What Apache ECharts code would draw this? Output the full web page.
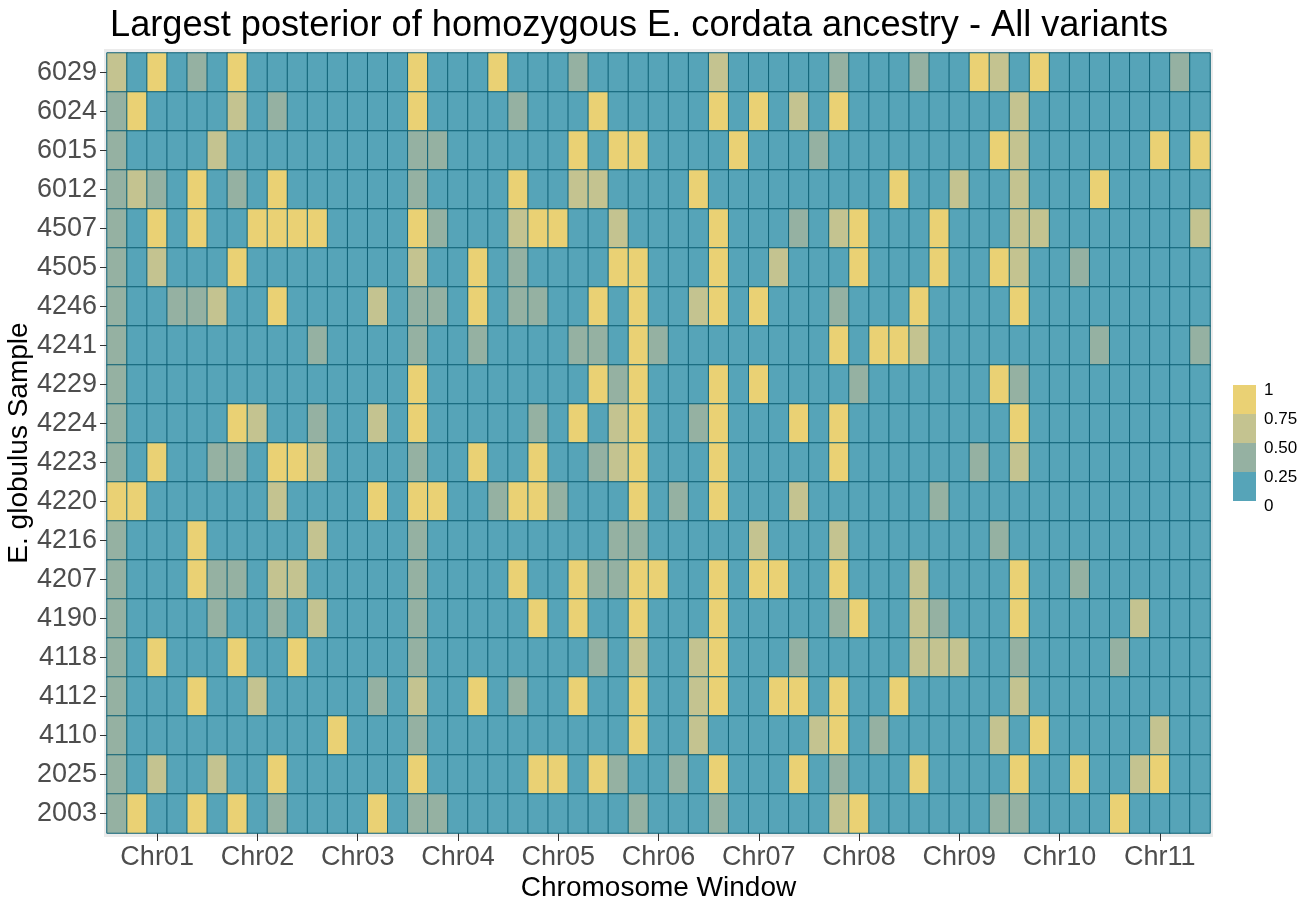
<!DOCTYPE html>
<html>
<head>
<meta charset="utf-8">
<script src="https://cdn.jsdelivr.net/npm/echarts@6/dist/echarts.min.js"></script>
<style>
  html, body { margin: 0; padding: 0; background: #ffffff; }
  #chart { width: 1316px; height: 909px; }
</style>
</head>
<body>
<div id="chart"></div>
<script>
// chromosomes, 5 windows each
let chromosomes = ['Chr01', 'Chr02', 'Chr03', 'Chr04', 'Chr05', 'Chr06', 'Chr07', 'Chr08', 'Chr09', 'Chr10', 'Chr11'];
let windowsPerChr = 5;

// samples, top to bottom as drawn
let samples = ['6029', '6024', '6015', '6012', '4507', '4505', '4246', '4241', '4229', '4224',
               '4223', '4220', '4216', '4207', '4190', '4118', '4112', '4110', '2025', '2003'];

// largest posterior per window (approximate, read off the colour bins)
let s6029 = [.6,.1,.9,.1,.4, .1,.9,.1,.1,.1, .1,.1,.1,.1,.1, .9,.1,.1,.1,.9, .1,.1,.1,.4,.1, .1,.1,.1,.1,.1, .6,.1,.1,.1,.1, .1,.4,.1,.1,.1, .4,.1,.1,.9,.6, .1,.9,.1,.1,.1, .1,.1,.1,.4,.1];
let s6024 = [.4,.9,.1,.1,.1, .1,.6,.1,.4,.1, .1,.1,.1,.1,.1, .9,.1,.1,.1,.1, .4,.1,.1,.1,.9, .1,.1,.1,.1,.1, .9,.1,.9,.1,.6, .1,.9,.1,.1,.1, .1,.1,.1,.1,.1, .6,.1,.1,.1,.1, .1,.1,.1,.1,.1];
let s6015 = [.4,.1,.1,.1,.1, .6,.1,.1,.1,.1, .1,.1,.1,.1,.1, .4,.4,.1,.1,.1, .1,.1,.1,.9,.1, .9,.9,.1,.1,.1, .1,.9,.1,.1,.1, .4,.1,.1,.1,.1, .1,.1,.1,.1,.9, .6,.1,.1,.1,.1, .1,.1,.9,.1,.9];
let s6012 = [.4,.6,.4,.1,.9, .1,.4,.1,.9,.1, .1,.1,.1,.1,.1, .4,.1,.1,.1,.1, .9,.1,.1,.6,.6, .1,.1,.1,.1,.9, .1,.1,.1,.1,.1, .1,.1,.1,.1,.9, .1,.1,.6,.1,.1, .6,.1,.1,.1,.9, .1,.1,.1,.1,.1];
let s4507 = [.4,.1,.9,.1,.9, .1,.1,.9,.9,.9, .9,.1,.1,.1,.1, .9,.4,.1,.1,.1, .6,.9,.9,.1,.1, .6,.1,.1,.1,.1, .9,.1,.1,.1,.4, .1,.6,.9,.1,.1, .1,.9,.1,.1,.1, .6,.6,.1,.1,.1, .1,.1,.1,.1,.6];
let s4505 = [.4,.1,.6,.1,.1, .1,.9,.1,.1,.1, .1,.1,.1,.1,.1, .6,.1,.1,.9,.1, .4,.1,.1,.1,.1, .9,.9,.1,.1,.1, .9,.1,.1,.6,.1, .1,.1,.9,.1,.1, .1,.9,.1,.1,.9, .6,.1,.1,.4,.1, .1,.1,.1,.1,.1];
let s4246 = [.4,.1,.1,.4,.4, .6,.1,.1,.9,.1, .1,.1,.1,.6,.1, .4,.4,.1,.9,.1, .4,.4,.1,.1,.9, .1,.9,.1,.1,.6, .9,.1,.9,.1,.1, .1,.4,.1,.1,.1, .9,.1,.1,.1,.1, .9,.1,.1,.1,.1, .1,.1,.1,.1,.1];
let s4241 = [.4,.1,.1,.1,.1, .1,.1,.1,.1,.1, .4,.1,.1,.1,.1, .4,.1,.1,.4,.1, .1,.1,.1,.4,.4, .1,.9,.4,.1,.1, .1,.1,.1,.1,.1, .1,.9,.1,.9,.9, .6,.1,.1,.1,.1, .1,.1,.1,.1,.4, .1,.1,.1,.1,.4];
let s4229 = [.4,.1,.1,.1,.1, .1,.1,.1,.1,.1, .1,.1,.1,.1,.1, .9,.1,.1,.1,.1, .1,.1,.1,.1,.9, .4,.9,.1,.1,.1, .9,.1,.9,.1,.1, .1,.1,.4,.1,.1, .1,.1,.1,.1,.9, .4,.1,.1,.1,.1, .1,.1,.1,.1,.1];
let s4224 = [.4,.1,.1,.1,.1, .1,.9,.6,.1,.1, .4,.1,.1,.6,.1, .9,.1,.1,.1,.1, .1,.4,.1,.9,.1, .6,.9,.1,.1,.4, .9,.1,.1,.1,.9, .1,.9,.1,.1,.1, .1,.1,.1,.1,.1, .9,.1,.1,.1,.1, .1,.1,.1,.1,.1];
let s4223 = [.4,.1,.9,.1,.1, .4,.4,.1,.9,.9, .6,.1,.1,.1,.1, .4,.1,.1,.9,.1, .1,.9,.1,.1,.4, .6,.9,.1,.1,.1, .9,.1,.1,.1,.1, .1,.9,.1,.1,.1, .1,.1,.1,.4,.1, .6,.1,.1,.1,.1, .1,.1,.1,.1,.1];
let s4220 = [.9,.9,.1,.1,.1, .1,.1,.1,.6,.1, .1,.1,.1,.9,.1, .9,.9,.1,.1,.4, .9,.9,.4,.1,.1, .1,.9,.1,.4,.1, .9,.1,.1,.1,.6, .1,.1,.1,.1,.1, .1,.4,.1,.1,.1, .1,.1,.1,.1,.1, .1,.1,.1,.1,.1];
let s4216 = [.4,.1,.1,.1,.9, .1,.1,.1,.1,.1, .6,.1,.1,.1,.1, .4,.1,.1,.1,.1, .1,.1,.1,.1,.1, .4,.4,.1,.1,.1, .1,.1,.6,.1,.1, .1,.6,.1,.1,.1, .1,.1,.1,.1,.4, .1,.1,.1,.1,.1, .1,.1,.1,.1,.1];
let s4207 = [.4,.1,.1,.1,.9, .4,.4,.1,.6,.6, .1,.1,.1,.1,.1, .4,.1,.1,.1,.1, .9,.1,.1,.9,.4, .4,.9,.9,.1,.1, .9,.1,.9,.9,.1, .1,.9,.1,.1,.1, .6,.1,.1,.1,.1, .9,.1,.1,.4,.1, .1,.1,.1,.1,.1];
let s4190 = [.4,.1,.1,.1,.1, .4,.1,.1,.4,.1, .6,.1,.1,.1,.1, .4,.1,.1,.1,.1, .1,.9,.1,.9,.1, .1,.9,.1,.1,.1, .9,.1,.1,.1,.1, .1,.4,.9,.1,.1, .6,.4,.1,.1,.1, .9,.1,.1,.1,.1, .1,.6,.1,.1,.1];
let s4118 = [.4,.1,.9,.1,.1, .1,.9,.1,.1,.9, .1,.1,.1,.1,.1, .4,.1,.1,.1,.1, .1,.1,.1,.1,.4, .1,.6,.1,.1,.6, .9,.1,.1,.1,.4, .1,.1,.1,.1,.1, .6,.6,.6,.1,.1, .4,.1,.1,.1,.1, .4,.1,.1,.1,.1];
let s4112 = [.4,.1,.1,.1,.9, .1,.1,.6,.1,.1, .1,.1,.1,.4,.1, .6,.1,.1,.9,.1, .4,.1,.1,.9,.1, .1,.9,.1,.1,.6, .9,.1,.1,.9,.9, .1,.9,.1,.1,.9, .1,.1,.1,.1,.1, .6,.1,.1,.1,.1, .1,.1,.1,.1,.1];
let s4110 = [.4,.1,.1,.1,.1, .1,.1,.1,.1,.1, .1,.9,.1,.1,.1, .4,.1,.1,.1,.1, .1,.1,.1,.1,.1, .1,.9,.1,.1,.6, .1,.1,.1,.1,.1, .6,.9,.1,.4,.1, .1,.1,.1,.1,.6, .1,.9,.1,.1,.1, .1,.1,.6,.1,.1];
let s2025 = [.4,.1,.6,.1,.1, .6,.1,.1,.9,.1, .1,.1,.1,.1,.1, .9,.1,.1,.1,.1, .1,.9,.9,.1,.9, .4,.1,.1,.4,.1, .9,.1,.1,.1,.9, .1,.4,.1,.1,.1, .9,.1,.1,.1,.1, .9,.1,.1,.9,.1, .1,.6,.9,.1,.1];
let s2003 = [.4,.9,.1,.1,.9, .1,.9,.1,.4,.1, .1,.1,.1,.9,.1, .4,.4,.1,.1,.1, .1,.1,.1,.1,.1, .1,.4,.1,.1,.1, .4,.1,.1,.1,.1, .1,.6,.9,.1,.1, .1,.1,.1,.1,.4, .4,.1,.1,.1,.1, .9,.1,.1,.1,.1];

let rowsTopToBottom = [s6029, s6024, s6015, s6012, s4507, s4505, s4246, s4241, s4229, s4224,
                       s4223, s4220, s4216, s4207, s4190, s4118, s4112, s4110, s2025, s2003];

// colour bins of the legend
let binBreaks = [0, 0.25, 0.5, 0.75, 1];
let binLabels = ['0', '0.25', '0.50', '0.75', '1'];
let binColors = ['#56A4B8', '#95B1A2', '#C4C390', '#EAD174'];

// window categories, label shown on the middle window of each chromosome
let windows = [];
chromosomes.forEach(function (c) {
    for (let w = 1; w <= windowsPerChr; w++) windows.push(c + '_' + w);
});
let midWindow = Math.floor(windowsPerChr / 2);

let ySamples = samples.slice().reverse();
let heatData = [];
rowsTopToBottom.forEach(function (row, r) {
    let yi = samples.length - 1 - r;
    row.forEach(function (v, j) {
        heatData.push([j, yi, v]);
    });
});

let gridLeft = 107, gridTop = 53, gridW = 1103, gridH = 780;

// legend drawn as a stacked colour bar
let legendX = 1233, legendY = 385, keyW = 23, keyH = 29;
let legendGraphics = [];
for (let i = binColors.length - 1; i >= 0; i--) {
    let k = binColors.length - 1 - i;
    legendGraphics.push({
        type: 'rect',
        shape: { x: legendX, y: legendY + k * keyH, width: keyW, height: keyH },
        style: { fill: binColors[i] }
    });
}
for (let i = binLabels.length - 1; i >= 0; i--) {
    let k = binLabels.length - 1 - i;
    legendGraphics.push({
        type: 'text',
        x: legendX + keyW + 8,
        y: legendY + k * keyH + 5,
        style: {
            text: binLabels[i],
            font: '17px "Liberation Sans"',
            fill: '#000000',
            textVerticalAlign: 'middle',
            verticalAlign: 'middle'
        }
    });
}

let myChart = echarts.init(document.getElementById('chart'));
let option = {
    backgroundColor: '#ffffff',
    animation: false,
    textStyle: { fontFamily: 'Liberation Sans' },
    title: {
        text: 'Largest posterior of homozygous E. cordata ancestry - All variants',
        left: 105,
        top: 3,
        textStyle: { fontSize: 36.2, fontWeight: 'normal', color: '#000000', fontFamily: 'Liberation Sans' }
    },
    grid: {
        left: gridLeft, top: gridTop, width: gridW, height: gridH,
        containLabel: false,
        outerBoundsMode: 'none'
    },
    graphic: [{
        type: 'rect',
        z: -10,
        silent: true,
        shape: { x: gridLeft - 3, y: gridTop - 4, width: gridW + 6, height: gridH + 8 },
        style: { fill: '#EBEBEB' }
    }].concat(legendGraphics),
    xAxis: {
        type: 'category',
        data: windows,
        name: 'Chromosome Window',
        nameLocation: 'middle',
        nameGap: 41,
        nameMoveOverlap: false,
        nameTextStyle: { fontSize: 28, color: '#000000' },
        axisLine: { show: false },
        axisTick: {
            show: true,
            alignWithLabel: true,
            length: 8,
            lineStyle: { color: '#333333' },
            interval: function (idx) { return idx % windowsPerChr === midWindow; }
        },
        axisLabel: {
            fontSize: 27,
            color: '#4D4D4D',
            margin: 11,
            interval: function (idx) { return idx % windowsPerChr === midWindow; },
            formatter: function (v) { return v.split('_')[0]; }
        },
        splitLine: { show: false }
    },
    yAxis: {
        type: 'category',
        data: ySamples,
        name: 'E. globulus Sample',
        nameLocation: 'middle',
        nameGap: 74,
        nameMoveOverlap: false,
        nameTextStyle: { fontSize: 28, color: '#000000' },
        axisLine: { show: false },
        axisTick: { show: true, alignWithLabel: true, length: 7, lineStyle: { color: '#333333' } },
        axisLabel: { fontSize: 27, color: '#4D4D4D', margin: 10 },
        splitLine: { show: false }
    },
    visualMap: {
        type: 'piecewise',
        show: false,
        dimension: 2,
        pieces: binColors.map(function (c, i) {
            return { gte: binBreaks[i], lt: binBreaks[i + 1] + (i === binColors.length - 1 ? 0.001 : 0), color: c };
        })
    },
    series: [{
        type: 'heatmap',
        data: heatData,
        itemStyle: { borderColor: '#0E6176', borderWidth: 1 },
        emphasis: { disabled: true }
    }]
};
myChart.setOption(option);
</script>
</body>
</html>
